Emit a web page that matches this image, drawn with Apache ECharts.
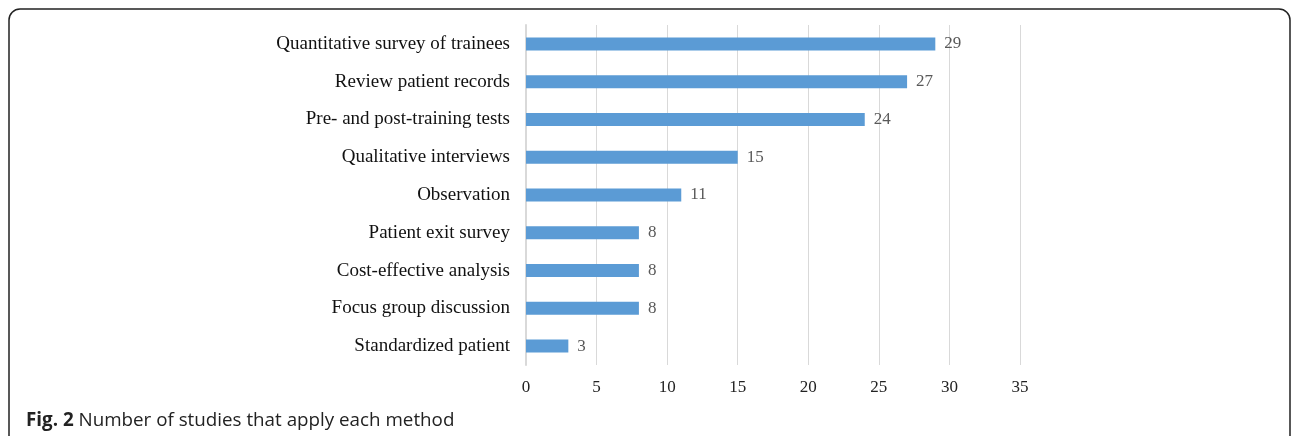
<!DOCTYPE html>
<html><head><meta charset="utf-8">
<script src="https://cdn.jsdelivr.net/npm/echarts@6/dist/echarts.min.js"></script>
<style>html,body{margin:0;padding:0;background:#fff;}#c{width:1293px;height:436px;}</style>
</head><body><div id="c"></div>
<script>
const categories = ["Standardized patient","Focus group discussion","Cost-effective analysis","Patient exit survey","Observation","Qualitative interviews","Pre- and post-training tests","Review patient records","Quantitative survey of trainees"];
const values = [3,8,8,8,11,15,24,27,29];
const xTicks = [0,5,10,15,20,25,30,35];
const chart = echarts.init(document.getElementById('c'), null, {renderer:'canvas'});
chart.setOption({
  animation:false,
  grid:{left:526, top:25, width:494, height:340, containLabel:false},
  xAxis:{type:'value', min:xTicks[0], max:xTicks[xTicks.length-1], interval:5,
    axisLine:{show:false}, axisTick:{show:false},
    splitLine:{show:true, lineStyle:{color:'#d9d9d9', width:1}},
    axisLabel:{fontFamily:'Liberation Serif', fontSize:17, color:'#222', margin:14}},
  yAxis:{type:'category', data:categories,
    axisLine:{show:true, lineStyle:{color:'#d9d9d9', width:2}}, axisTick:{show:false},
    axisLabel:{fontFamily:'Liberation Serif', fontSize:19, color:'#111', margin:16, padding:[3,0,0,0]}},
  series:[{type:'bar', data:values, barWidth:13, itemStyle:{color:'#5b9bd5'},
    label:{show:true, position:'right', distance:9, fontFamily:'Liberation Serif', fontSize:17, color:'#595959', padding:[3,0,0,0]}}],
  graphic:[
    {type:'rect', shape:{x:9, y:9, width:1281, height:460, r:11}, style:{fill:'none', stroke:'#222', lineWidth:1.5}, silent:true},
    {type:'text', left:26, top:411, style:{text:'{b|Fig. 2} Number of studies that apply each method', rich:{b:{fontWeight:'bold', fontFamily:'Open Sans', fontSize:18.8, fill:'#222'}}, font:'18.8px "Open Sans"', fill:'#222'}}
  ]
});
</script></body></html>
